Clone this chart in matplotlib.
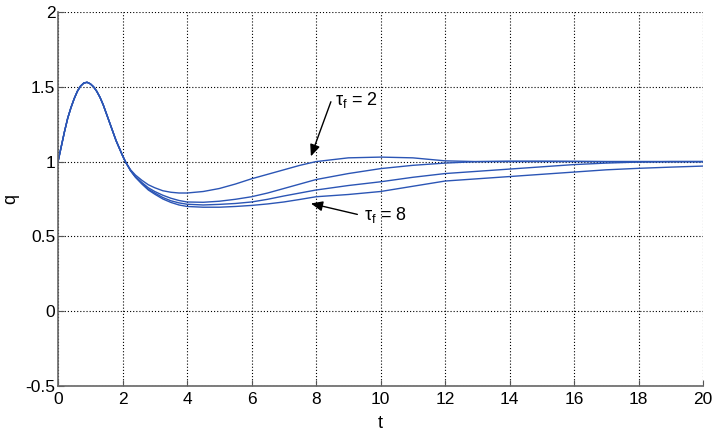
import matplotlib
matplotlib.use("Agg")
import matplotlib.pyplot as plt

plt.rcParams["font.family"] = ["Liberation Sans", "DejaVu Sans"]
plt.rcParams["mathtext.fontset"] = "custom"
plt.rcParams["mathtext.rm"] = "Liberation Sans"
plt.rcParams["mathtext.it"] = "Liberation Sans:italic"

# shared start (all four responses coincide up to t ~ 2.1)
t_start = [0.0, 0.1, 0.2, 0.3, 0.4, 0.5, 0.6, 0.7, 0.8, 0.9, 1.0, 1.1, 1.2, 1.3, 1.4,
           1.5, 1.6, 1.7, 1.8, 1.9, 2.0, 2.1]
q_start = [1.0, 1.1, 1.2, 1.29, 1.36, 1.42, 1.47, 1.505, 1.525, 1.53, 1.52, 1.50, 1.47,
           1.43, 1.38, 1.32, 1.26, 1.2, 1.14, 1.09, 1.04, 0.995]

# after the split
t_tail = [2.25, 2.4, 2.6, 2.8, 3.0, 3.25, 3.5, 3.75, 4, 4.5, 5, 5.5, 6, 6.5, 7, 7.5, 8,
          9, 10, 11, 12, 13, 14, 15, 16, 17, 18, 19, 20]
q_tau2 = [0.945, 0.91, 0.875, 0.845, 0.825, 0.805, 0.795, 0.79, 0.79, 0.80, 0.82, 0.85,
          0.885, 0.915, 0.945, 0.975, 1.0, 1.025, 1.03, 1.025, 1.005, 1.0, 1.0, 1.0,
          1.0, 1.0, 1.0, 1.0, 1.0]
q_tau4 = [0.94, 0.90, 0.86, 0.825, 0.80, 0.775, 0.755, 0.74, 0.73, 0.728, 0.735, 0.748,
          0.765, 0.79, 0.82, 0.85, 0.88, 0.92, 0.953, 0.975, 0.99, 1.0, 1.003, 1.003,
          1.002, 1.0, 1.0, 1.0, 1.0]
q_tau6 = [0.94, 0.898, 0.855, 0.815, 0.79, 0.76, 0.738, 0.724, 0.715, 0.71, 0.714, 0.72,
          0.73, 0.748, 0.77, 0.79, 0.81, 0.84, 0.865, 0.895, 0.92, 0.935, 0.95, 0.965,
          0.98, 0.99, 0.997, 1.0, 1.0]
q_tau8 = [0.938, 0.895, 0.85, 0.81, 0.782, 0.75, 0.727, 0.71, 0.70, 0.695, 0.695, 0.70,
          0.707, 0.717, 0.73, 0.747, 0.765, 0.78, 0.80, 0.835, 0.87, 0.885, 0.90, 0.915,
          0.93, 0.945, 0.955, 0.963, 0.97]

x_ticks = list(range(0, 21, 2))
y_ticks = [-0.5, 0, 0.5, 1, 1.5, 2]
y_ticklabels = ["-0.5", "0", "0.5", "1", "1.5", "2"]

line_color = "#2b55b5"

fig = plt.figure(figsize=(7.12, 4.34), dpi=100)
ax = fig.add_axes([0.0815, 0.1106, 0.906, 0.8618])

for q_tail in (q_tau2, q_tau4, q_tau6, q_tau8):
    ax.plot(t_start + t_tail, q_start + q_tail, color=line_color, lw=1.0)

ax.set_xlim(0, 20)
ax.set_ylim(-0.5, 2)
ax.set_xticks(x_ticks)
ax.set_xticklabels([str(v) for v in x_ticks])
ax.set_yticks(y_ticks)
ax.set_yticklabels(y_ticklabels)
ax.grid(True, color="black", ls=(0, (1, 1.8)), lw=0.8)
ax.tick_params(direction="in", length=4, labelsize=12.5, color="#555555")
ax.tick_params(axis="x", pad=4)
ax.tick_params(axis="y", pad=2)
for side in ("top", "right"):
    ax.spines[side].set_visible(False)
for side in ("left", "bottom"):
    ax.spines[side].set_color("#666666")
    ax.spines[side].set_linewidth(1.2)

ax.set_xlabel("t", fontsize=13, labelpad=6)
ax.set_ylabel("q", fontsize=13, labelpad=4)

arrow = dict(arrowstyle="-|>,head_length=0.7,head_width=0.3", color="black",
             lw=1.0, shrinkA=0, shrinkB=0)
ax.annotate("", xy=(7.84, 1.035), xytext=(8.46, 1.40), arrowprops=arrow)
ax.text(8.6, 1.38, r"$\mathrm{\tau_f}$ = 2", fontsize=13, ha="left", va="baseline")
ax.annotate("", xy=(7.84, 0.72), xytext=(9.28, 0.647), arrowprops=arrow)
ax.text(9.5, 0.61, r"$\mathrm{\tau_f}$ = 8", fontsize=13, ha="left", va="baseline")

fig.savefig("out.png", dpi=100)
